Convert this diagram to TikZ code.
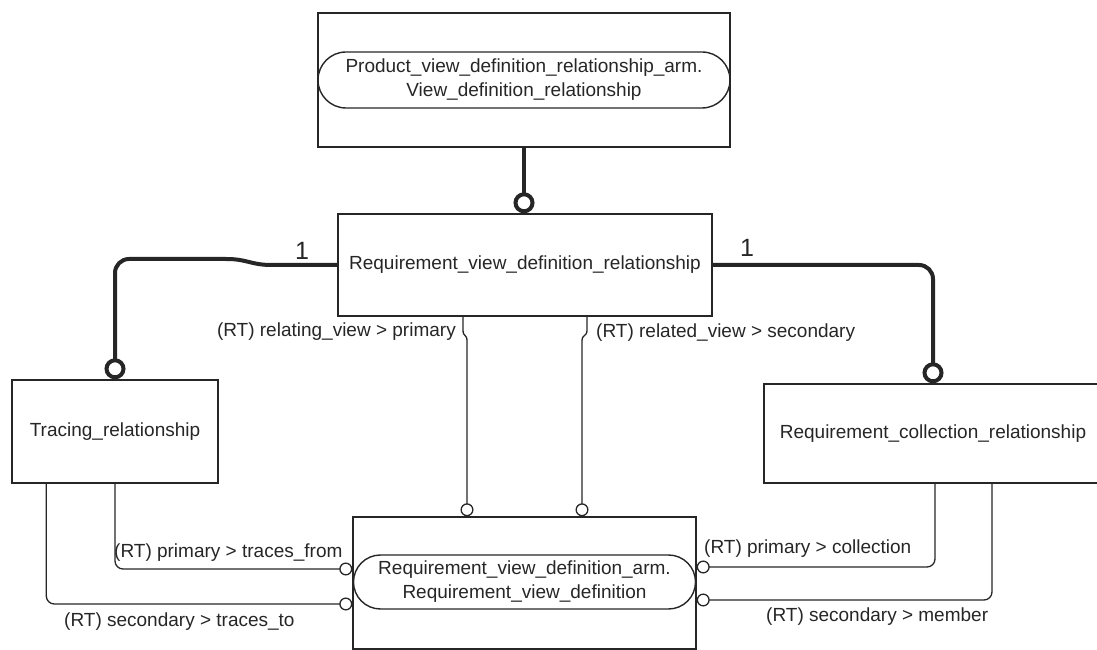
\documentclass[tikz,border=0pt]{standalone}
\usepackage{fontspec}
\setmainfont{Liberation Sans}
\usetikzlibrary{arrows.meta,shapes.misc,calc}
\definecolor{ink}{HTML}{262626}
\begin{document}
\begin{tikzpicture}[x=1pt,y=1pt,
  font=\fontsize{19}{24}\selectfont,
  entity/.style={draw=ink, line width=1.4pt, rectangle, inner sep=0pt, text=ink},
  pill/.style={draw=ink, line width=1.4pt, rounded rectangle, inner sep=0pt, align=center, text=ink},
  strong/.style={draw=ink, line width=4pt, -{Circle[open,length=21pt,width=21pt]}},
  weak/.style={draw=ink, line width=1.3pt, -{Circle[open,length=13pt,width=13pt]}},
  lbl/.style={inner sep=0pt, text=ink},
  card/.style={inner sep=0pt, text=ink, font=\fontsize{25}{25}\selectfont}
]
\useasboundingbox (0,0) rectangle (1097,650);
\clip (0,0) rectangle (1097,650);

% entities
\node[entity, minimum width=412pt, minimum height=134pt] (pvdr) at (524,570) {};
\node[pill, minimum width=412pt, minimum height=56pt] (pvdrpill) at (524,570)
  {Product\_view\_definition\_relationship\_arm.\\View\_definition\_relationship};
\node[entity, minimum width=374pt, minimum height=102pt] (rvdr) at (525,385)
  {Requirement\_view\_definition\_relationship};
\node[entity, minimum width=206pt, minimum height=103pt] (trace) at (115,218.5)
  {Tracing\_relationship};
\node[entity, minimum width=338pt, minimum height=99pt] (coll) at (933,216.5)
  {Requirement\_collection\_relationship};
\node[entity, minimum width=343pt, minimum height=132pt] (rvd) at (524.5,67) {};
\node[pill, minimum width=342pt, minimum height=54pt] (rvdpill) at (524.5,68)
  {Requirement\_view\_definition\_arm.\\Requirement\_view\_definition};

% subtype connectors
\draw[strong] (pvdr.south) -- (pvdr.south |- rvdr.north);
\draw[strong] (rvdr.west) -- (272,385) .. controls (250,385) and (248,391) .. (226,391)
  [rounded corners=14pt] -| (trace.north);
\draw[strong, rounded corners=14pt] (rvdr.east) -| (coll.north);
\node[card] (c1) at (302,399) {1};
\node[card] (c2) at (747,402) {1};

% attribute connectors
\draw[weak] (rvdr.south -| 463,0) -- (463,320) .. controls (463,313) and (467,316) .. (467,309) -- (rvd.north -| 467,0);
\draw[weak] (rvdr.south -| 587,0) -- (587,320) .. controls (587,313) and (582,316) .. (582,309) -- (rvd.north -| 582,0);
\draw[weak, rounded corners=8pt] (trace.south) |- (rvd.west |- 0,81);
\draw[weak, rounded corners=8pt] ([xshift=35pt]trace.south west) |- (rvd.west |- 0,46);
\draw[weak, rounded corners=8pt] ([xshift=2pt]coll.south) |- (rvd.east |- 0,83);
\draw[weak, rounded corners=8pt] ([xshift=59pt]coll.south) |- (rvd.east |- 0,50);

% labels
\node[lbl, anchor=east] (l1) at (456,318) {(RT) relating\_view > primary};
\node[lbl, anchor=west] (l2) at (596,317) {(RT) related\_view > secondary};
\node[lbl, anchor=west] (l3) at (114,97) {(RT) primary > traces\_from};
\node[lbl, anchor=west] (l4) at (64,28) {(RT) secondary > traces\_to};
\node[lbl, anchor=west] (l5) at (704,101) {(RT) primary > collection};
\node[lbl, anchor=west] (l6) at (766,33) {(RT) secondary > member};
\end{tikzpicture}
\end{document}
